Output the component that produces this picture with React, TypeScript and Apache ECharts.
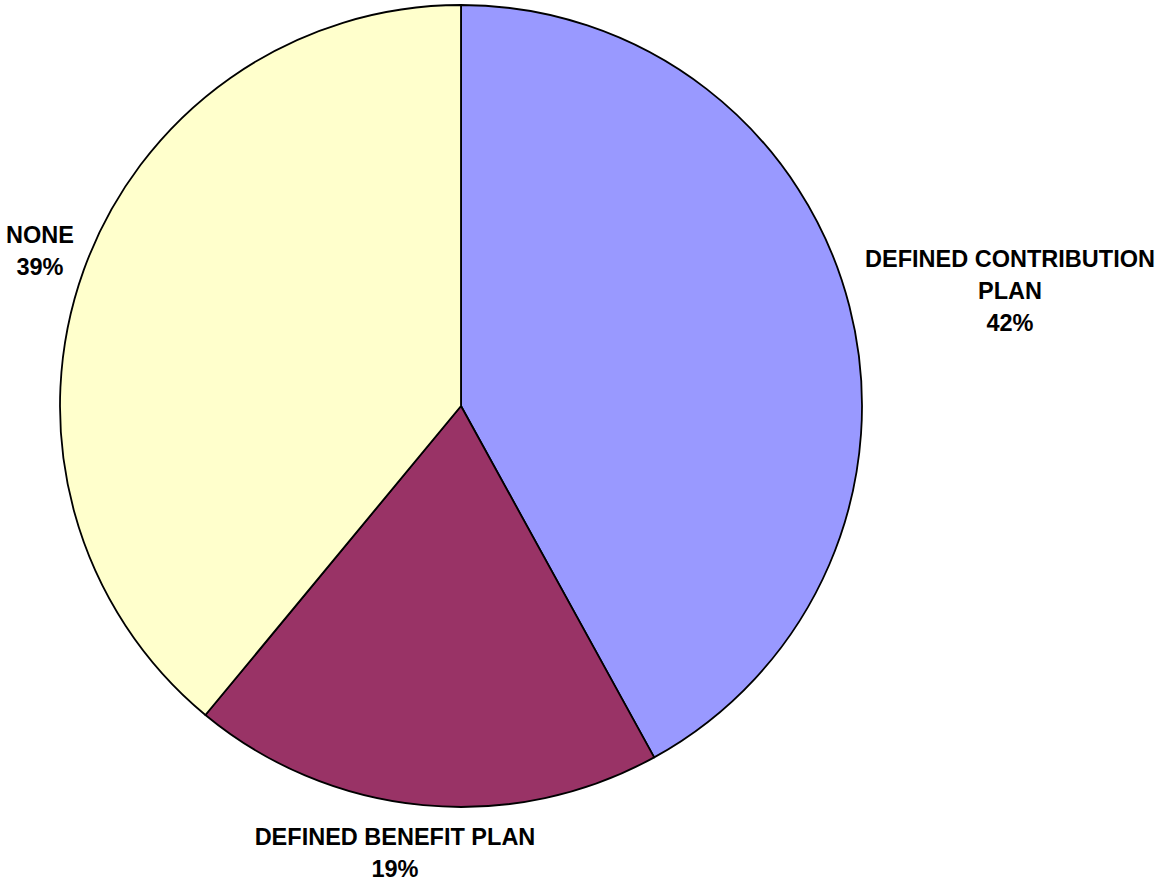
import React, { useEffect, useRef } from "react";
import * as echarts from "echarts";

const categories = ["DEFINED CONTRIBUTION\nPLAN", "DEFINED BENEFIT PLAN", "NONE"];
const values = [42, 19, 39];
const colors = ["#9999FF", "#993366", "#FFFFCC"];
const labelPos = [
  { x: 1010, y: 291 },
  { x: 395, y: 853 },
  { x: 40, y: 251 },
];

export default function App() {
  const ref = useRef<HTMLDivElement>(null);
  useEffect(() => {
    if (!ref.current) return;
    const chart = echarts.init(ref.current, undefined, { renderer: "svg" });
    chart.setOption({
      animation: false,
      backgroundColor: "#ffffff",
      series: [
        {
          type: "pie",
          center: [461, 406],
          radius: [0, 401],
          startAngle: 90,
          clockwise: true,
          avoidLabelOverlap: false,
          data: categories.map((c, i) => ({
            name: c,
            value: values[i],
            itemStyle: { color: colors[i] },
          })),
          itemStyle: { borderColor: "#000000", borderWidth: 1.8 },
          label: {
            show: true,
            position: "outside",
            formatter: (p: any) => `${p.name}\n${p.value}%`,
            fontFamily: "Liberation Sans, Arial, sans-serif",
            fontWeight: "bold",
            fontSize: 23.5,
            lineHeight: 32,
            color: "#000000",
            align: "center",
          },
          labelLine: { show: false },
          labelLayout: (params: any) => {
            const p = labelPos[params.dataIndex];
            return { x: p.x, y: p.y, align: "center", verticalAlign: "middle" };
          },
          emphasis: { disabled: true },
        },
      ],
    });
    return () => chart.dispose();
  }, []);
  return (
    <div
      ref={ref}
      style={{ position: "fixed", left: 0, top: 0, width: 1162, height: 881 }}
    />
  );
}
